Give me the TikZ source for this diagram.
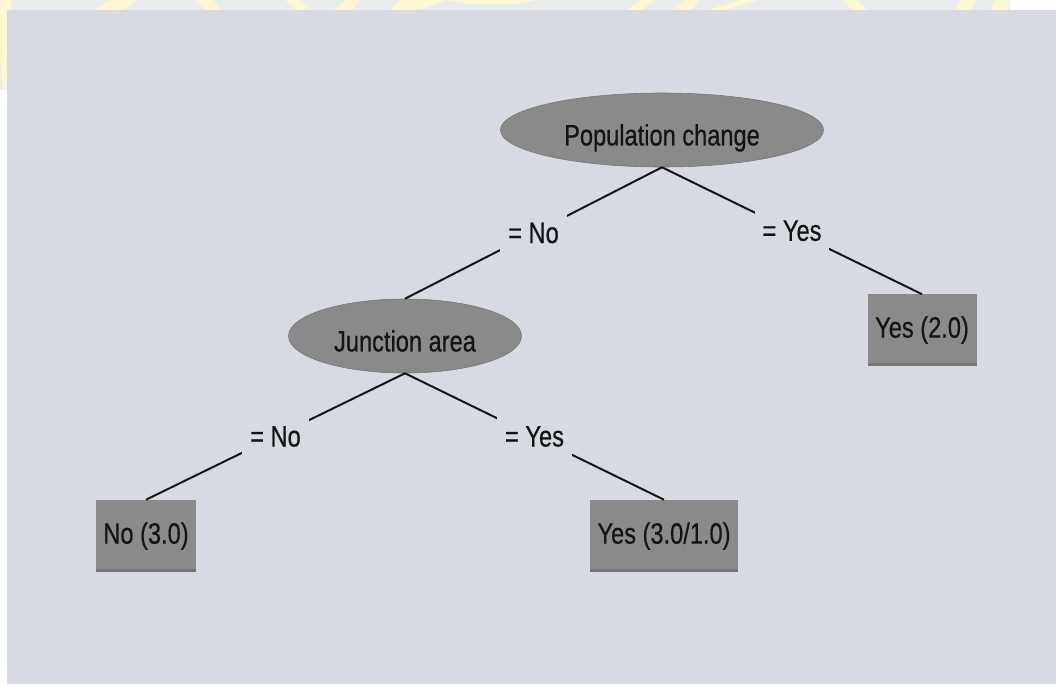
\documentclass[tikz,border=0pt]{standalone}
\usepackage{fontspec}
\setmainfont[FakeStretch=0.8,FakeBold=0.5]{Liberation Sans}
\usetikzlibrary{shapes.geometric}

\definecolor{panel}{HTML}{D7DAE2}
\definecolor{band}{HTML}{EBECEC}
\definecolor{wm}{HTML}{FFF6D2}
\definecolor{nodefill}{HTML}{8A8A8A}
\definecolor{nodeedge}{HTML}{747474}
\definecolor{ink}{HTML}{141414}

\begin{document}
\begin{tikzpicture}[x=0.025cm,y=-0.025cm,
  every node/.style={font=\fontsize{21}{24}\selectfont, text=ink},
  split/.style={ellipse, fill=nodefill, draw=nodeedge, line width=0.4pt, inner sep=0pt,
    text height=22pt, text depth=0pt},
  leaf/.style={rectangle, fill=nodefill, inner sep=0pt,
    path picture={\fill[nodeedge] (path picture bounding box.south west)
      rectangle ([yshift=2pt]path picture bounding box.south east);}},
  branch/.style={draw=ink, line width=1.4pt},
  cond/.style={fill=panel, inner xsep=5.7pt, inner ysep=6.5pt}]

  % page, margins and faint watermark strip
  \useasboundingbox (0,0) rectangle (1056,684);
  \fill[white] (0,0) rectangle (1056,684);
  \fill[band] (0,0) rectangle (1010,10);
  \fill[band] (0,0) rectangle (7,90);
  \begin{scope}
    \clip (0,0) rectangle (1010,10) (0,0) rectangle (7,90);
    \fill[wm] (0,0) -- (12,0) -- (7,30) -- (7,90) -- (3,90) -- (0,60) -- cycle;
    \fill[wm] (95,10) -- (110,0) -- (137,0) -- (125,10) -- cycle;
    \fill[wm] (195,0) -- (213,0) -- (222,10) -- (205,10) -- cycle;
    \fill[wm] (285,0) -- (300,0) -- (312,10) -- (297,10) -- cycle;
    \fill[wm] (335,10) -- (345,0) -- (360,0) -- (352,10) -- cycle;
    \fill[wm] (390,10) -- (400,0) -- (447,0) -- (420,10) -- cycle;
    \fill[wm] (447,0) -- (537,0) -- (520,4) -- (470,4) -- cycle;
    \fill[wm] (627,10) -- (640,0) -- (655,0) -- (642,10) -- cycle;
    \fill[wm] (672,10) -- (685,0) -- (700,0) -- (690,10) -- cycle;
    \fill[wm] (707,10) -- (740,0) -- (760,0) -- (745,4) -- (725,10) -- cycle;
    \fill[wm] (843,0) -- (857,0) -- (867,10) -- (852,10) -- cycle;
    \fill[wm] (953,10) -- (960,0) -- (977,0) -- (970,10) -- cycle;
    \fill[wm] (990,10) -- (995,0) -- (1010,0) -- (1008,10) -- cycle;
  \end{scope}
  \fill[panel] (7,10) rectangle (1056,684);

  % decision tree
  \node[split, minimum width=8.075cm, minimum height=1.85cm] (pop) at (662,130) {Population change};
  \node[split, minimum width=5.825cm, minimum height=1.85cm] (junc) at (405,336) {Junction area};
  \node[leaf, minimum width=2.725cm, minimum height=1.775cm] (yes2) at (922,330) {Yes (2.0)};
  \node[leaf, minimum width=2.475cm, minimum height=1.8cm] (no3) at (146,536) {No (3.0)};
  \node[leaf, minimum width=3.7cm, minimum height=1.8cm] (yes31) at (664,536) {Yes (3.0/1.0)};

  \draw[branch] (pop.south) -- node[cond] {= No} (junc.north);
  \draw[branch] (pop.south) -- node[cond] {= Yes} (yes2.north);
  \draw[branch] (junc.south) -- node[cond] {= No} (no3.north);
  \draw[branch] (junc.south) -- node[cond] {= Yes} (yes31.north);
\end{tikzpicture}
\end{document}
